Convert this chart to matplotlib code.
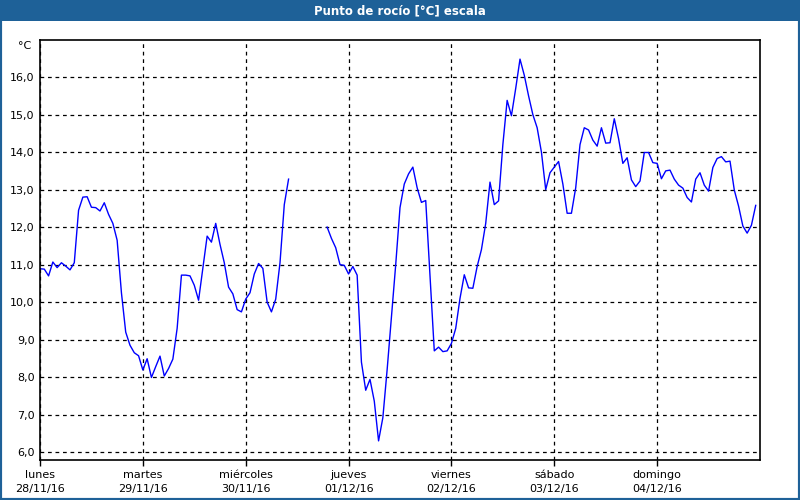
import numpy as np
import matplotlib
matplotlib.use("Agg")
import matplotlib.pyplot as plt
from matplotlib.patches import Rectangle

# Hourly dew point readings, Mon 28/11/16 00:00 onwards (NaN = missing)
dew_point = [
    10.89, 10.88, 10.70, 11.07, 10.92, 11.05, 10.96, 10.86, 11.05, 12.45, 12.80, 12.81,
    12.53, 12.52, 12.43, 12.65, 12.34, 12.10, 11.65, 10.25, 9.20, 8.85, 8.65, 8.57,
    8.19, 8.49, 7.99, 8.28, 8.56, 8.03, 8.23, 8.48, 9.30, 10.72, 10.72, 10.70,
    10.45, 10.05, 10.90, 11.76, 11.60, 12.10, 11.54, 11.05, 10.40, 10.22, 9.80, 9.74,
    10.08, 10.25, 10.75, 11.03, 10.90, 10.00, 9.74, 10.08, 11.05, 12.60, 13.28, np.nan,
    np.nan, np.nan, np.nan, np.nan, np.nan, np.nan, np.nan, 12.00, 11.70, 11.45, 11.00, 10.98,
    10.75, 10.95, 10.72, 8.40, 7.65, 7.94, 7.36, 6.30, 6.92, 8.20, 9.60, 11.00,
    12.52, 13.15, 13.42, 13.60, 13.05, 12.66, 12.71, 10.70, 8.70, 8.80, 8.68, 8.70,
    8.90, 9.30, 10.10, 10.73, 10.38, 10.37, 10.95, 11.40, 12.10, 13.20, 12.60, 12.70,
    14.20, 15.38, 14.97, 15.70, 16.48, 16.05, 15.50, 15.00, 14.65, 14.00, 13.00, 13.45,
    13.60, 13.75, 13.15, 12.37, 12.37, 13.05, 14.20, 14.65, 14.59, 14.32, 14.16, 14.65,
    14.24, 14.25, 14.89, 14.36, 13.70, 13.85, 13.26, 13.08, 13.23, 13.99, 13.99, 13.72,
    13.70, 13.29, 13.50, 13.52, 13.28, 13.12, 13.04, 12.79, 12.67, 13.28, 13.45, 13.12,
    12.96, 13.59, 13.83, 13.88, 13.74, 13.76, 12.99, 12.56, 12.03, 11.84, 12.05, 12.58,
]
hours = np.arange(len(dew_point))

day_names = ["lunes", "martes", "miércoles", "jueves", "viernes", "sábado", "domingo"]
day_dates = ["28/11/16", "29/11/16", "30/11/16", "01/12/16", "02/12/16", "03/12/16", "04/12/16"]
y_ticks = [6, 7, 8, 9, 10, 11, 12, 13, 14, 15, 16]

BLUE_BAR = "#1e6198"

plt.rcParams["font.family"] = ["DejaVu Sans"]

fig = plt.figure(figsize=(8, 5), dpi=100)
fig.patch.set_facecolor("white")

# Title bar and outer frame
fig.patches.append(Rectangle((0, 1 - 21 / 500), 1, 21 / 500, transform=fig.transFigure,
                             facecolor=BLUE_BAR, edgecolor="none", zorder=0))
fig.patches.append(Rectangle((0, 0), 1, 1, transform=fig.transFigure,
                             facecolor="none", edgecolor=BLUE_BAR, lw=3, zorder=5))
fig.text(0.5, 1 - 10.5 / 500, "Punto de rocío [°C] escala", color="white",
         fontsize=8.5, fontweight="bold", ha="center", va="center")

ax = fig.add_axes([40 / 800, 40 / 500, 720 / 800, 420 / 500])
ax.plot(hours, dew_point, color="#0000ff", lw=1)

ax.set_xlim(0, 168)
ax.set_ylim(5.79, 16.99)

ax.set_yticks(y_ticks)
ax.set_yticklabels([f"{v:.1f}".replace(".", ",") for v in y_ticks], fontsize=8)
ax.tick_params(axis="y", length=0, pad=4)

day_ticks = np.arange(0, 168, 24)
ax.set_xticks(day_ticks)
ax.set_xticklabels([f"{n}\n{d}" for n, d in zip(day_names, day_dates)], fontsize=8,
                   linespacing=1.5)
ax.tick_params(axis="x", direction="out", length=4, width=1, pad=3)

ax.grid(True, color="black", ls=(0, (3, 3)), lw=0.9)
for s in ax.spines.values():
    s.set_linewidth(1.2)

ax.text(-0.012, 0.985, "°C", transform=ax.transAxes, ha="right", va="center", fontsize=8)

fig.savefig("out.png", dpi=100)
